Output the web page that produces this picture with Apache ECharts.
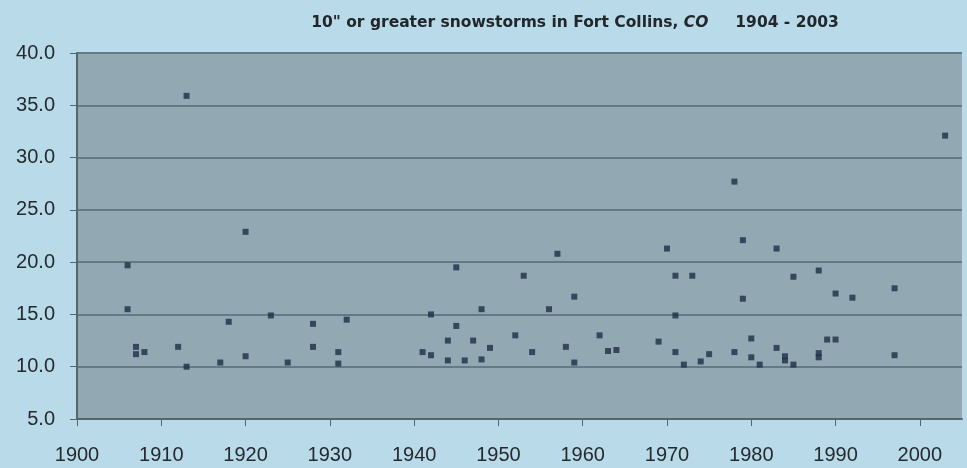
<!DOCTYPE html>
<html>
<head>
<meta charset="utf-8">
<script src="https://cdn.jsdelivr.net/npm/echarts@6/dist/echarts.min.js"></script>
<style>
  html, body { margin: 0; padding: 0; background: #b9dbe9; }
  #chart { width: 967px; height: 468px; }
</style>
</head>
<body>
<div id="chart"></div>
<script>
// storms of 10" or more, year and snowfall (inches)
const years = [
  1906, 1906, 1907, 1907, 1908, 1912, 1913, 1913, 1917, 1918,
  1920, 1920, 1923, 1925, 1928, 1928, 1931, 1931, 1932, 1941,
  1942, 1942, 1944, 1944, 1945, 1945, 1946, 1947, 1948, 1948,
  1949, 1952, 1953, 1954, 1956, 1957, 1958, 1959, 1959, 1962,
  1963, 1964, 1969, 1970, 1971, 1971, 1971, 1972, 1973, 1974,
  1975, 1978, 1978, 1979, 1979, 1980, 1980, 1981, 1983, 1983,
  1984, 1984, 1985, 1985, 1988, 1988, 1988, 1989, 1990, 1990,
  1992, 1997, 1997, 2003
];
const snowfall = [
  19.7, 15.5, 11.9, 11.2, 11.4, 11.9, 10.0, 35.9, 10.4, 14.3,
  22.9, 11.0, 14.9, 10.4, 14.1, 11.9, 11.4, 10.3, 14.5, 11.4,
  11.1, 15.0, 12.5, 10.6, 19.5, 13.9, 10.6, 12.5, 15.5, 10.7,
  11.8, 13.0, 18.7, 11.4, 15.5, 20.8, 11.9, 16.7, 10.4, 13.0,
  11.5, 11.6, 12.4, 21.3, 18.7, 14.9, 11.4, 10.2, 18.7, 10.5,
  11.2, 11.4, 27.7, 22.1, 16.5, 12.7, 10.9, 10.2, 21.3, 11.8,
  11.0, 10.6, 18.6, 10.2, 19.2, 11.3, 10.9, 12.6, 17.0, 12.6,
  16.6, 17.5, 11.1, 32.1
];

const chart = echarts.init(document.getElementById('chart'));

chart.setOption({
  backgroundColor: '#b9dbe9',
  animation: false,
  title: {
    text: '{n|10" or greater snowstorms in Fort Collins, }{i|CO}{n|     1904 - 2003}',
    left: 570,
    textAlign: 'center',
    top: 10,
    textStyle: {
      rich: {
        n: { fontFamily: 'DejaVu Sans', fontWeight: 'bold', fontSize: 15.5, color: '#22272b' },
        i: { fontFamily: 'DejaVu Sans', fontWeight: 'bold', fontStyle: 'italic', fontSize: 15.5, color: '#22272b' }
      }
    }
  },
  grid: {
    left: 77,
    right: 5,
    top: 53,
    bottom: 49,
    show: true,
    backgroundColor: '#92a9b4',
    borderWidth: 0
  },
  xAxis: {
    type: 'value',
    min: 1900,
    max: 2005,
    interval: 10,
    axisLine: { show: true, onZero: false, lineStyle: { color: '#56666e', width: 2 } },
    axisTick: { show: true, inside: false, length: 7, lineStyle: { color: '#56666e', width: 1 } },
    axisLabel: {
      margin: 26,
      fontFamily: 'Liberation Sans',
      fontSize: 20,
      lineHeight: 20,
      color: '#262a2e',
      showMaxLabel: false,
      formatter: v => (v % 10 === 0 ? String(v) : '')
    },
    splitLine: { show: false }
  },
  yAxis: {
    type: 'value',
    min: 5,
    max: 40,
    interval: 5,
    axisLine: { show: true, lineStyle: { color: '#56666e', width: 2 } },
    axisTick: { show: true, length: 7, lineStyle: { color: '#56666e', width: 1 } },
    axisLabel: {
      margin: 22,
      fontFamily: 'Liberation Sans',
      fontSize: 20,
      color: '#262a2e',
      formatter: v => v.toFixed(1)
    },
    splitLine: { show: true, lineStyle: { color: '#627b86', width: 2 } }
  },
  series: [{
    type: 'scatter',
    symbol: 'rect',
    symbolSize: 6,
    itemStyle: { color: '#1f2d47' },
    data: years.map((y, i) => [y, snowfall[i]])
  }]
});
</script>
</body>
</html>
